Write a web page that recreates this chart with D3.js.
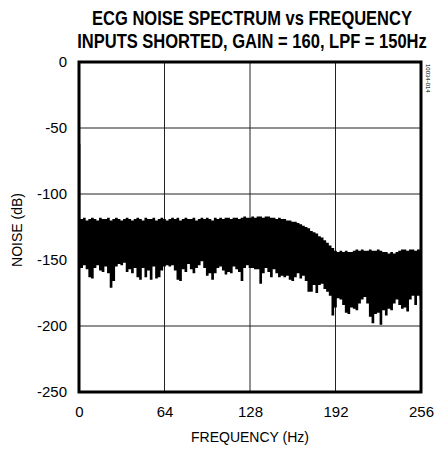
<!DOCTYPE html>
<html>
<head>
<meta charset="utf-8">
<script src="https://cdn.jsdelivr.net/npm/d3@7"></script>
<style>
  body { margin: 0; background: #fff; }
  svg { display: block; }
</style>
</head>
<body>
<div id="chart"></div>
<script>
// x ticks (Hz) and y ticks (dB)
const xTicks = [0, 64, 128, 192, 256];
const yTicks = [0, -50, -100, -150, -200, -250];

// spectrum, one bin every 2 Hz (0..256)
const binStep = 2;
const noiseTop = [
  -62,
  -119, -118, -120, -119, -118, -119, -120, -118, -119, -119,
  -118, -120, -119, -118, -119, -120, -119, -118, -119, -120,
  -119, -118, -119, -120, -118, -119, -119, -118, -120, -119,
  -118, -119, -120, -119, -118, -119, -118, -120, -119, -118,
  -119, -119, -118, -120, -119, -118, -119, -118, -119, -120,
  -118, -119, -118, -119, -118,
  -118, -119, -118, -118, -119, -118, -117, -118, -118,
  -117, -118, -117, -117, -118, -117, -117, -118,
  -118, -119, -118, -119, -119, -120,
  -120, -121, -121, -122, -123, -124, -125, -126,
  -128, -129, -130, -132, -133, -135, -137, -139, -141, -143, -144,
  -143, -144, -143, -144, -144, -143, -142, -143, -142, -143,
  -143, -142, -143, -143, -142, -143, -144, -144, -145, -144,
  -145, -144, -143, -142, -142, -143, -142, -142, -143, -142,
  -142
];
const noiseBottom = [
  -156,
  -156, -154, -157, -163, -164, -156, -154, -158, -159, -155,
  -160, -171, -166, -155, -153, -154, -152, -159, -157, -160,
  -156, -163, -165, -156, -163, -158, -165, -155, -164, -163,
  -158, -155, -154, -155, -154, -158, -165, -166, -157, -159,
  -153, -157, -160, -156, -154, -151, -156, -162, -160, -165,
  -160, -156, -155, -158, -161, -159, -160, -155, -157, -159,
  -166, -156, -154, -156,
  -156, -157, -157, -168, -160, -156,
  -159, -163, -157, -160, -163, -162, -163, -162, -165, -166,
  -163, -160, -164, -162, -166, -174, -174, -169, -175, -169,
  -168, -172, -174, -177, -192, -186, -179, -180, -184, -190,
  -191, -186, -187, -188, -183, -180, -178, -183, -193, -198,
  -191, -190, -199, -188, -192, -187, -188, -183, -180, -184,
  -187, -186, -189, -180, -177, -184, -177, -180
];

const width = 435;
const height = 449;
const plotLeft = 79, plotRight = 421, plotTop = 62, plotBottom = 392;

const xScale = d3.scaleLinear().domain([0, 256]).range([plotLeft, plotRight]);
const yScale = d3.scaleLinear().domain([-250, 0]).range([plotBottom, plotTop]);

const data = noiseTop.map((hi, i) => ({ f: i * binStep, hi: hi, lo: noiseBottom[i] }));

let svg = d3.select('#chart')
    .append('svg')
    .attr('width', width)
    .attr('height', height)
    .style('font-family', 'Liberation Sans, Arial, sans-serif');

// title, squeezed horizontally like the narrow face in the original
function titleLine(txt, cx, y, targetWidth) {
    let g = svg.append('g');
    let t = g.append('text')
        .attr('text-anchor', 'middle')
        .attr('font-size', 20).attr('font-weight', 'bold')
        .text(txt);
    let len = t.node().getComputedTextLength();
    g.attr('transform', `translate(${cx}, ${y}) scale(${targetWidth / len}, 1)`);
}
titleLine('ECG NOISE SPECTRUM vs FREQUENCY', 252, 25, 320);
titleLine('INPUTS SHORTED, GAIN = 160, LPF = 150Hz', 252, 48, 350);

// grid
svg.append('g')
    .selectAll('line')
    .data(xTicks.slice(1, -1))
    .enter().append('line')
        .attr('x1', d => xScale(d)).attr('x2', d => xScale(d))
        .attr('y1', plotTop).attr('y2', plotBottom)
        .attr('stroke', '#222').attr('stroke-width', 1);
svg.append('g')
    .selectAll('line')
    .data(yTicks.slice(1, -1))
    .enter().append('line')
        .attr('x1', plotLeft).attr('x2', plotRight)
        .attr('y1', d => yScale(d)).attr('y2', d => yScale(d))
        .attr('stroke', '#222').attr('stroke-width', 1);

// spectrum
svg.append('clipPath').attr('id', 'plotClip')
    .append('rect')
        .attr('x', plotLeft).attr('y', plotTop)
        .attr('width', plotRight - plotLeft).attr('height', plotBottom - plotTop);

const area = d3.area()
    .x(d => xScale(d.f))
    .y0(d => yScale(d.lo))
    .y1(d => yScale(d.hi))
    .curve(d3.curveStep);

svg.append('path')
    .datum(data)
    .attr('clip-path', 'url(#plotClip)')
    .attr('fill', '#000')
    .attr('d', area);

// frame
svg.append('rect')
    .attr('x', plotLeft).attr('y', plotTop)
    .attr('width', plotRight - plotLeft).attr('height', plotBottom - plotTop)
    .attr('fill', 'none').attr('stroke', '#000').attr('stroke-width', 3);

// y axis labels
let yAxis = svg.append('g')
    .attr('transform', `translate(${plotLeft - 12}, 0)`)
    .call(d3.axisLeft(yScale).tickValues(yTicks).tickSize(0).tickPadding(0)
        .tickFormat(d => String(d)));
yAxis.select('.domain').remove();
yAxis.selectAll('text')
    .attr('font-size', 15)
    .attr('font-family', 'Liberation Sans, Arial, sans-serif')
    .attr('fill', '#000');

// x axis labels
let xAxis = svg.append('g')
    .attr('transform', `translate(0, ${plotBottom + 14})`)
    .call(d3.axisBottom(xScale).tickValues(xTicks).tickSize(0).tickPadding(0));
xAxis.select('.domain').remove();
xAxis.selectAll('text')
    .attr('font-size', 15)
    .attr('font-family', 'Liberation Sans, Arial, sans-serif')
    .attr('fill', '#000');

// axis titles
svg.append('text')
    .attr('x', 250).attr('y', 442)
    .attr('text-anchor', 'middle')
    .attr('font-size', 14)
    .text('FREQUENCY (Hz)');
svg.append('text')
    .attr('transform', 'translate(22, 230) rotate(-90)')
    .attr('text-anchor', 'middle')
    .attr('font-size', 14)
    .text('NOISE (dB)');

// figure code
svg.append('text')
    .attr('transform', 'translate(426, 64) rotate(90)')
    .attr('font-size', 6)
    .text('10034-014');
</script>
</body>
</html>
